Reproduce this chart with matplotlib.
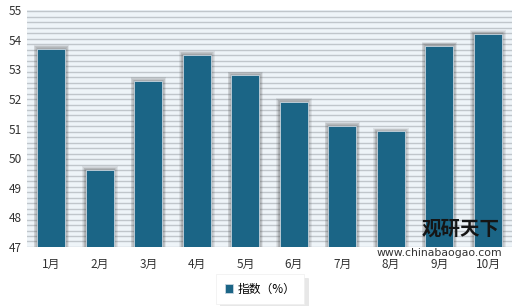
import matplotlib.pyplot as plt
import numpy as np

plt.rcParams['font.family'] = ['Noto Sans CJK SC', 'DejaVu Sans']

months = ['1月', '2月', '3月', '4月', '5月', '6月', '7月', '8月', '9月', '10月']
index_vals = [53.7, 49.6, 52.6, 53.5, 52.8, 51.9, 51.1, 50.9, 53.8, 54.2]

BAR_COLOR = '#1b6586'
BG_COLOR = '#eef4f8'
STRIPE_COLOR = '#c0c6cb'
Y_MIN, Y_MAX = 47, 55

fig = plt.figure(figsize=(5.2, 3.06), dpi=100)
ax = fig.add_axes([0.052, 0.193, 0.933, 0.774])
ax.set_facecolor(BG_COLOR)

# horizontal stripes of the background
for y in np.arange(Y_MIN, Y_MAX + 0.01, 0.185):
    ax.axhline(y, color=STRIPE_COLOR, lw=1.0, zorder=0)

x = np.arange(len(months))
vals = np.array(index_vals)

# blurred shadow around each bar
for k in range(1, 6):
    ax.bar(x, vals - Y_MIN + 0.025 * k, width=0.58 + 0.03 * k,
           bottom=Y_MIN, color='#4a4a4a', alpha=0.1, lw=0, zorder=1)

ax.bar(x, vals - Y_MIN, width=0.58, bottom=Y_MIN, color=BAR_COLOR,
       edgecolor='#c8d6e0', lw=0.6, zorder=2, label='指数（%）')

ax.set_xlim(-0.5, len(months) - 0.5)
ax.set_ylim(Y_MIN, Y_MAX)
ax.set_yticks(range(Y_MIN, Y_MAX + 1))
ax.set_xticks(x)
ax.set_xticklabels(months)
ax.tick_params(axis='both', length=0, labelsize=8.5, colors='#333333')
ax.tick_params(axis='x', pad=8)
ax.tick_params(axis='y', pad=4)
for s in ax.spines.values():
    s.set_visible(False)

# watermark
ax.text(0.975, 0.035, '观研天下', transform=ax.transAxes, ha='right', va='bottom',
        fontsize=14, fontweight='black', color='#151515', zorder=5)
ax.text(0.98, -0.005, 'www.chinabaogao.com', transform=ax.transAxes, ha='right',
        va='top', fontsize=7.8, color='#333333', family='DejaVu Sans', zorder=5)

leg = fig.legend(loc='lower center', bbox_to_anchor=(0.5, -0.012), frameon=True,
                 fontsize=8.5, handlelength=0.7, handleheight=0.7,
                 handletextpad=0.4, borderpad=0.7, fancybox=False,
                 shadow={'color': '#d8d8d8', 'alpha': 0.6, 'ox': 3, 'oy': -3})
leg.get_frame().set_edgecolor('#eeeeee')
leg.get_frame().set_linewidth(0.5)

fig.savefig('out.png', dpi=100)
